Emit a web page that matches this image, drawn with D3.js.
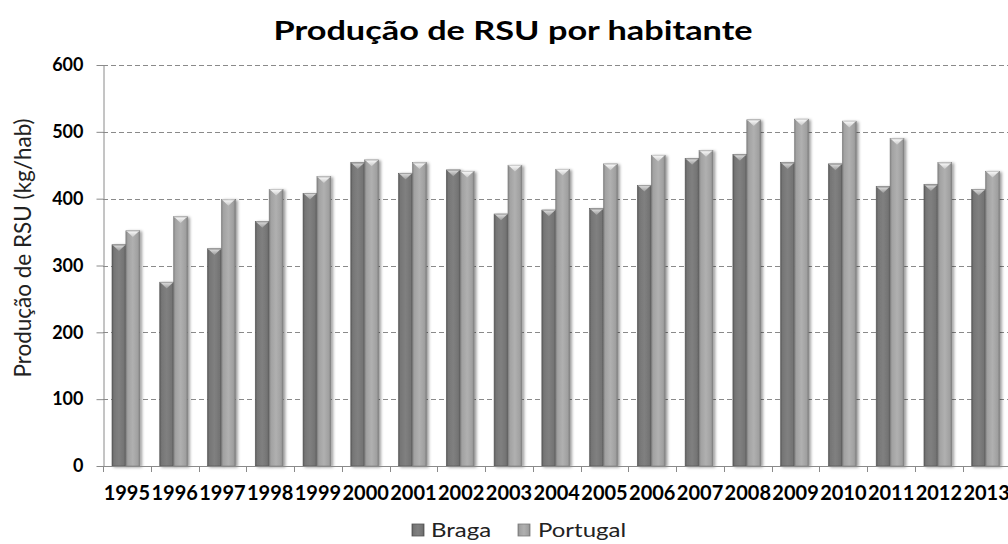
<!DOCTYPE html>
<html>
<head>
<meta charset="utf-8">
<script src="https://cdn.jsdelivr.net/npm/d3@7/dist/d3.min.js"></script>
<style>
  html, body { margin: 0; padding: 0; background: #fff; }
  svg { display: block; font-family: Lato, "Open Sans", sans-serif; }
</style>
</head>
<body>
<svg id="chart" width="1008" height="544"></svg>
<script>
// Produção de resíduos sólidos urbanos por habitante (kg/hab)
const years = ["1995","1996","1997","1998","1999","2000","2001","2002","2003","2004",
               "2005","2006","2007","2008","2009","2010","2011","2012","2013"];
const braga    = [331, 275, 325, 366, 408, 454, 438, 443, 377, 383, 385, 420, 460, 466, 454, 452, 418, 421, 414];
const portugal = [352, 373, 399, 414, 433, 458, 454, 441, 450, 444, 452, 465, 472, 518, 519, 516, 490, 454, 441];
const seriesNames = ["Braga", "Portugal"];
const yTicks = [0, 100, 200, 300, 400, 500, 600];

const svg = d3.select("#chart");
const W = 1008, H = 544;
const plot = { left: 103, right: 1010.5, top: 65, bottom: 466 };

// gradients: rounded-bar look for each series
const defs = svg.append("defs");
const palettes = {
  Braga:    { stops: ["#5a5a5a", "#767676", "#808080", "#747474", "#585858"], cap: ["#d8d8d8", "#9a9a9a"] },
  Portugal: { stops: ["#848484", "#a2a2a2", "#b0b0b0", "#a0a0a0", "#808080"], cap: ["#f6f6f6", "#c8c8c8"] }
};
seriesNames.forEach(name => {
  const g = defs.append("linearGradient").attr("id", "grad-" + name)
    .attr("x1", "0").attr("x2", "1").attr("y1", "0").attr("y2", "0");
  [0, 0.14, 0.5, 0.86, 1].forEach((o, i) =>
    g.append("stop").attr("offset", o).attr("stop-color", palettes[name].stops[i]));
  const c = defs.append("linearGradient").attr("id", "cap-" + name)
    .attr("x1", "0").attr("x2", "0").attr("y1", "0").attr("y2", "1");
  c.append("stop").attr("offset", 0).attr("stop-color", palettes[name].cap[0]);
  c.append("stop").attr("offset", 1).attr("stop-color", palettes[name].cap[1]);
});
const shadow = defs.append("filter").attr("id", "shadow")
  .attr("x", "-50%").attr("y", "-5%").attr("width", "200%").attr("height", "110%");
shadow.append("feDropShadow").attr("dx", 2).attr("dy", 1)
  .attr("stdDeviation", 1.6).attr("flood-color", "#000").attr("flood-opacity", 0.4);

// scales
const y = d3.scaleLinear().domain([0, 600]).range([plot.bottom, plot.top]);
const x0 = d3.scaleBand().domain(years).range([plot.left, plot.right]).padding(0);
const x1 = d3.scaleBand().domain(seriesNames).range([0, x0.bandwidth()])
  .paddingInner(0).paddingOuter(0.72).align(0.45);

// title (slightly widened lettering)
svg.append("text")
  .attr("transform", "translate(513,40) scale(1.27,1)")
  .attr("text-anchor", "middle")
  .attr("font-size", 27).attr("font-weight", "bold").attr("fill", "#000")
  .text("Produção de RSU por habitante");

// horizontal dashed gridlines
svg.append("g").selectAll("line")
  .data(yTicks.filter(d => d > 0))
  .join("line")
  .attr("x1", plot.left).attr("x2", W)
  .attr("y1", d => Math.round(y(d)) + 0.5).attr("y2", d => Math.round(y(d)) + 0.5)
  .attr("stroke", "#8a8a8a").attr("stroke-width", 1)
  .attr("stroke-dasharray", "5,3");

// y axis
const yAxis = svg.append("g")
  .attr("transform", `translate(${plot.left + 0.5},0)`)
  .call(d3.axisLeft(y).tickValues(yTicks).tickSize(7).tickSizeOuter(0).tickPadding(13));
yAxis.select(".domain").attr("stroke", "#8a8a8a");
yAxis.selectAll(".tick line").attr("stroke", "#8a8a8a");
yAxis.selectAll(".tick text")
  .attr("font-family", "Lato, sans-serif")
  .attr("font-size", 18).attr("font-weight", "bold").attr("fill", "#000");

// y axis title
svg.append("text")
  .attr("transform", `translate(31,248) rotate(-90)`)
  .attr("text-anchor", "middle")
  .attr("font-size", 22.5).attr("fill", "#222")
  .text("Produção de RSU (kg/hab)");

// bars
const rows = years.map((yr, i) => ({ year: yr, values: [
  { key: "Braga", value: braga[i] },
  { key: "Portugal", value: portugal[i] }
]}));

const groups = svg.append("g").selectAll("g")
  .data(rows).join("g")
  .attr("transform", d => `translate(${x0(d.year)},0)`);

const bar = groups.selectAll("g.bar")
  .data(d => d.values).join("g").attr("class", "bar")
  .attr("filter", "url(#shadow)");

bar.append("rect")
  .attr("x", d => x1(d.key))
  .attr("y", d => y(d.value))
  .attr("width", x1.bandwidth())
  .attr("height", d => y(0) - y(d.value))
  .attr("fill", d => `url(#grad-${d.key})`)
  .attr("stroke", d => d.key === "Braga" ? "#555" : "#7c7c7c")
  .attr("stroke-width", 0.6);

// bevelled cap on top of each bar
bar.append("path")
  .attr("d", d => {
    const xl = x1(d.key) + 1.2, xr = x1(d.key) + x1.bandwidth() - 1.2;
    const yt = y(d.value) + 0.8;
    const xm = (xl + xr) / 2;
    return `M${xl},${yt}L${xr},${yt}L${xm},${yt + 5.5}Z`;
  })
  .attr("fill", d => `url(#cap-${d.key})`);

bar.append("line")
  .attr("x1", d => x1(d.key) + 0.5).attr("x2", d => x1(d.key) + x1.bandwidth() - 0.5)
  .attr("y1", d => y(d.value) + 0.4).attr("y2", d => y(d.value) + 0.4)
  .attr("stroke", d => d.key === "Braga" ? "#bdbdbd" : "#e6e6e6").attr("stroke-width", 0.8);

// x axis: baseline, ticks between categories, year labels
const xAxis = svg.append("g");
xAxis.append("line")
  .attr("x1", plot.left).attr("x2", W)
  .attr("y1", plot.bottom + 0.5).attr("y2", plot.bottom + 0.5)
  .attr("stroke", "#8a8a8a");
xAxis.selectAll("line.tk")
  .data(years.concat(["end"]))
  .join("line").attr("class", "tk")
  .attr("x1", d => Math.round(d === "end" ? plot.right : x0(d)) + 0.5)
  .attr("x2", d => Math.round(d === "end" ? plot.right : x0(d)) + 0.5)
  .attr("y1", plot.bottom).attr("y2", plot.bottom + 6)
  .attr("stroke", "#8a8a8a");
xAxis.selectAll("text")
  .data(years).join("text")
  .attr("x", d => x0(d) + x0.bandwidth() / 2)
  .attr("y", 500)
  .attr("text-anchor", "middle")
  .attr("font-size", 20).attr("font-weight", "bold").attr("fill", "#000")
  .text(d => d);

// legend
const legend = svg.append("g");
const legendItems = [
  { key: "Braga", x: 412, tx: 431 },
  { key: "Portugal", x: 518, tx: 538 }
];
legendItems.forEach(it => {
  legend.append("rect")
    .attr("x", it.x).attr("y", 524).attr("width", 12).attr("height", 12)
    .attr("fill", `url(#grad-${it.key})`)
    .attr("stroke", it.key === "Braga" ? "#555" : "#7c7c7c").attr("stroke-width", 0.8);
  legend.append("text")
    .attr("transform", `translate(${it.tx},537) scale(1.2,1)`)
    .attr("font-size", 20).attr("fill", "#222")
    .text(it.key);
});
</script>
</body>
</html>
